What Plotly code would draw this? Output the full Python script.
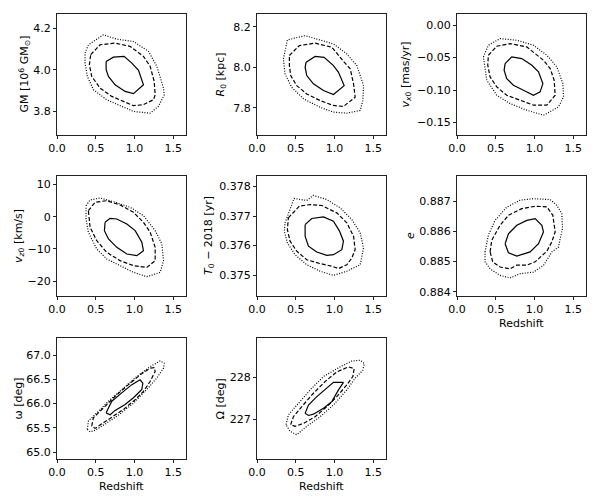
import plotly.graph_objects as go
from plotly.subplots import make_subplots

# ---- contour paths: (redshift, parameter) ----
# level 1 = solid, level 2 = dashed, level 3 = dotted

gm_1 = [(0.634, 4.040), (0.728, 4.061), (0.866, 4.065), (0.966, 4.032), (1.052, 3.997), (1.116, 3.927),
        (0.987, 3.884), (0.879, 3.895), (0.750, 3.927), (0.664, 3.968), (0.634, 4.000)]
gm_2 = [(0.435, 4.073), (0.556, 4.121), (0.750, 4.129), (0.944, 4.113), (1.116, 4.065), (1.203, 4.016),
        (1.254, 3.944), (1.267, 3.879), (1.246, 3.855), (1.116, 3.831), (0.987, 3.826), (0.858, 3.847),
        (0.707, 3.871), (0.556, 3.911), (0.448, 3.968), (0.418, 4.024)]
gm_3 = [(0.362, 4.081), (0.405, 4.121), (0.599, 4.169), (0.772, 4.148), (0.987, 4.137), (1.181, 4.089),
        (1.289, 4.016), (1.375, 3.911), (1.384, 3.879), (1.310, 3.823), (1.203, 3.790), (1.073, 3.795),
        (0.987, 3.798), (0.836, 3.823), (0.642, 3.855), (0.470, 3.903), (0.392, 3.968), (0.362, 4.032)]

r0_1 = [(0.634, 8.025), (0.750, 8.053), (0.866, 8.049), (0.987, 8.008), (1.052, 7.975), (1.125, 7.909),
        (0.987, 7.865), (0.858, 7.885), (0.728, 7.918), (0.642, 7.959), (0.621, 8.000)]
r0_2 = [(0.418, 8.058), (0.547, 8.107), (0.750, 8.119), (0.966, 8.099), (1.125, 8.025), (1.203, 7.992),
        (1.246, 7.918), (1.267, 7.852), (1.116, 7.806), (0.987, 7.811), (0.815, 7.835), (0.642, 7.868),
        (0.513, 7.909), (0.435, 7.959), (0.418, 8.008)]
r0_3 = [(0.341, 8.041), (0.392, 8.135), (0.621, 8.156), (0.772, 8.140), (0.987, 8.115), (1.159, 8.066),
        (1.289, 8.008), (1.375, 7.909), (1.366, 7.835), (1.332, 7.786), (1.159, 7.773), (0.987, 7.778),
        (0.815, 7.802), (0.599, 7.844), (0.448, 7.901), (0.362, 7.967)]

vx_1 = [(0.621, -0.0592), (0.707, -0.0490), (0.836, -0.0515), (0.966, -0.0618), (1.052, -0.0720),
        (1.108, -0.0900), (1.073, -0.1027), (0.987, -0.1079), (0.858, -0.1002), (0.728, -0.0925),
        (0.642, -0.0823), (0.608, -0.0695)]
vx_2 = [(0.405, -0.0464), (0.513, -0.0326), (0.685, -0.0285), (0.901, -0.0336), (1.116, -0.0541),
        (1.203, -0.0669), (1.254, -0.0848), (1.267, -0.1079), (1.159, -0.1232), (0.987, -0.1232),
        (0.815, -0.1155), (0.642, -0.1079), (0.513, -0.0951), (0.427, -0.0797), (0.397, -0.0618)]
vx_3 = [(0.341, -0.0490), (0.405, -0.0311), (0.556, -0.0208), (0.772, -0.0234), (0.987, -0.0311),
        (1.159, -0.0464), (1.289, -0.0643), (1.366, -0.0899), (1.375, -0.1104), (1.310, -0.1258),
        (1.116, -0.1386), (0.901, -0.1309), (0.685, -0.1207), (0.513, -0.1079), (0.384, -0.0848)]

vz_1 = [(0.621, -1.76), (0.685, -0.52), (0.772, -0.72), (0.901, -2.28), (1.009, -4.34), (1.095, -7.96),
        (1.116, -10.55), (1.030, -12.10), (0.901, -11.58), (0.772, -9.51), (0.664, -6.93), (0.612, -4.34)]
vz_2 = [(0.405, 1.86), (0.491, 4.45), (0.642, 4.96), (0.815, 3.62), (0.987, 1.34), (1.116, -1.76),
        (1.203, -4.86), (1.267, -9.51), (1.267, -13.65), (1.159, -15.72), (0.987, -15.20), (0.815, -13.65),
        (0.642, -11.07), (0.513, -7.45), (0.427, -3.31)]
vz_3 = [(0.375, 3.41), (0.427, 5.17), (0.556, 5.79), (0.728, 4.65), (0.944, 2.90), (1.116, 0.31),
        (1.267, -4.34), (1.353, -8.48), (1.375, -13.65), (1.332, -17.27), (1.159, -18.61), (0.987, -17.27),
        (0.815, -15.20), (0.642, -13.13), (0.513, -10.03), (0.405, -4.86), (0.375, -0.72)]

t0_1 = [(0.621, 0.37671), (0.707, 0.37692), (0.858, 0.37697), (0.987, 0.37683), (1.065, 0.37649),
        (1.116, 0.37615), (1.095, 0.37586), (0.987, 0.37569), (0.901, 0.37567), (0.772, 0.37578),
        (0.664, 0.37598), (0.621, 0.37632)]
t0_2 = [(0.405, 0.37694), (0.547, 0.37734), (0.685, 0.37739), (0.836, 0.37736), (1.030, 0.37711),
        (1.159, 0.37677), (1.246, 0.37632), (1.267, 0.37586), (1.224, 0.37558), (1.159, 0.37535),
        (1.052, 0.37522), (0.966, 0.37530), (0.815, 0.37539), (0.642, 0.37552), (0.513, 0.37581),
        (0.427, 0.37615), (0.392, 0.37654)]
t0_3 = [(0.362, 0.37677), (0.478, 0.37760), (0.642, 0.37753), (0.728, 0.37770), (0.901, 0.37756),
        (1.073, 0.37728), (1.224, 0.37688), (1.332, 0.37643), (1.375, 0.37592), (1.332, 0.37535),
        (1.159, 0.37513), (0.987, 0.37499), (0.815, 0.37513), (0.642, 0.37535), (0.491, 0.37569),
        (0.392, 0.37609), (0.353, 0.37649)]

ecc_1 = [(0.621, 0.88559), (0.664, 0.88592), (0.772, 0.88620), (0.901, 0.88636), (1.009, 0.88642),
         (1.095, 0.88620), (1.116, 0.88598), (1.052, 0.88559), (0.944, 0.88532), (0.772, 0.88518),
         (0.664, 0.88529)]
ecc_2 = [(0.427, 0.88532), (0.448, 0.88570), (0.556, 0.88620), (0.664, 0.88653), (0.836, 0.88675),
         (1.009, 0.88683), (1.159, 0.88681), (1.237, 0.88653), (1.267, 0.88598), (1.224, 0.88565),
         (1.159, 0.88534), (1.009, 0.88499), (0.901, 0.88488), (0.772, 0.88488), (0.685, 0.88476),
         (0.556, 0.88482), (0.461, 0.88499)]
ecc_3 = [(0.362, 0.88532), (0.405, 0.88587), (0.491, 0.88636), (0.642, 0.88680), (0.815, 0.88703),
         (0.987, 0.88708), (1.203, 0.88705), (1.289, 0.88686), (1.353, 0.88658), (1.362, 0.88609),
         (1.332, 0.88576), (1.310, 0.88548), (1.224, 0.88532), (1.116, 0.88487), (0.987, 0.88465),
         (0.815, 0.88460), (0.685, 0.88446), (0.556, 0.88454), (0.427, 0.88476), (0.362, 0.88499)]

om_1 = [(0.634, 65.81), (0.707, 66.05), (0.836, 66.22), (0.966, 66.39), (1.073, 66.49), (1.108, 66.42),
        (1.095, 66.29), (0.987, 66.12), (0.879, 65.98), (0.750, 65.86), (0.685, 65.77)]
om_2 = [(0.448, 65.54), (0.470, 65.71), (0.599, 65.91), (0.750, 66.15), (0.922, 66.39), (1.073, 66.59),
        (1.203, 66.73), (1.254, 66.74), (1.267, 66.66), (1.203, 66.46), (1.116, 66.25), (1.009, 66.08),
        (0.858, 65.88), (0.728, 65.74), (0.578, 65.57), (0.491, 65.49)]
om_3 = [(0.392, 65.47), (0.405, 65.64), (0.513, 65.81), (0.685, 66.08), (0.858, 66.32), (1.030, 66.56),
        (1.203, 66.76), (1.332, 66.88), (1.384, 66.83), (1.375, 66.73), (1.289, 66.53), (1.159, 66.29),
        (0.987, 66.01), (0.815, 65.79), (0.642, 65.60), (0.491, 65.45), (0.427, 65.42)]

node_1 = [(0.621, 227.14), (0.664, 227.34), (0.772, 227.54), (0.879, 227.70), (0.987, 227.88),
          (1.116, 227.88), (1.052, 227.70), (0.966, 227.42), (0.858, 227.26), (0.728, 227.12),
          (0.664, 227.09)]
node_2 = [(0.435, 226.87), (0.470, 227.06), (0.578, 227.30), (0.728, 227.62), (0.879, 227.90),
          (1.030, 228.13), (1.181, 228.25), (1.254, 228.21), (1.237, 228.02), (1.159, 227.82),
          (1.030, 227.54), (0.901, 227.30), (0.750, 227.06), (0.599, 226.90), (0.491, 226.83)]
node_3 = [(0.375, 226.87), (0.405, 227.10), (0.534, 227.38), (0.707, 227.74), (0.858, 228.02),
          (1.073, 228.25), (1.224, 228.39), (1.332, 228.41), (1.384, 228.33), (1.366, 228.17),
          (1.267, 227.98), (1.159, 227.70), (0.987, 227.34), (0.815, 227.06), (0.642, 226.83),
          (0.513, 226.63), (0.427, 226.71)]

# axis labels / ticks per panel
Y_TITLES = ['GM [10<sup>6</sup> GM<sub>⊙</sub>]', '<i>R</i><sub>0</sub> [kpc]',
            '<i>v</i><sub><i>x</i>0</sub> [mas/yr]', '<i>v</i><sub><i>z</i>0</sub> [km/s]',
            '<i>T</i><sub>0</sub> − 2018 [yr]', '<i>e</i>', 'ω [deg]', 'Ω [deg]']
Y_TICKS = [[3.8, 4.0, 4.2], [7.8, 8.0, 8.2], [0.0, -0.05, -0.10, -0.15], [10, 0, -10, -20],
           [0.375, 0.376, 0.377, 0.378], [0.884, 0.885, 0.886, 0.887],
           [65.0, 65.5, 66.0, 66.5, 67.0], [227, 228]]
Y_FMT = ['.1f', '.1f', '.2f', 'd', '.3f', '.3f', '.1f', 'd']
Y_RANGES = [[3.684, 4.27], [7.665, 8.263], [-0.169, 0.017], [-24.6, 12.6],
            [0.37429, 0.37836], [0.88386, 0.88783], [64.86, 67.35], [226.05, 228.94]]
X_TICKS = [0.0, 0.5, 1.0, 1.5]
X_RANGE = [0, 1.665]

panels = [(gm_1, gm_2, gm_3), (r0_1, r0_2, r0_3), (vx_1, vx_2, vx_3), (vz_1, vz_2, vz_3),
          (t0_1, t0_2, t0_3), (ecc_1, ecc_2, ecc_3), (om_1, om_2, om_3), (node_1, node_2, node_3)]
dashes = ['solid', '4px,2px', '1px,1.6px']

# pixel layout from the reference (600x500)
W, H = 600, 500
col_px = [(57, 186), (257, 386), (457, 586)]
row_px = [(14, 135), (176, 296), (338, 459)]
ytitle_px = [24, 220, 405, 19, 209, 410, 18, 220]   # centre of each rotated y label
xtitle_gap = 27                                    # axis bottom -> centre of "Redshift"

FS = 11

fig = make_subplots(rows=3, cols=3)

for k, levels in enumerate(panels):
    r, c = k // 3 + 1, k % 3 + 1
    for pts, dash in zip(levels, dashes):
        xs = [p[0] for p in pts] + [pts[0][0]]
        ys = [p[1] for p in pts] + [pts[0][1]]
        fig.add_trace(go.Scatter(x=xs, y=ys, mode='lines', showlegend=False,
                                 line=dict(color='black', width=1.2, dash=dash)),
                      row=r, col=c)

axis_style = dict(showline=True, linecolor='#222222', linewidth=1, mirror=True, ticks='outside',
                  ticklen=3, tickcolor='#222222', showgrid=False, zeroline=False, automargin=False,
                  tickfont=dict(size=FS, color='black'))

for k in range(9):
    r, c = k // 3, k % 3
    n = '' if k == 0 else str(k + 1)
    x0, x1 = col_px[c]
    y0, y1 = row_px[r]
    xd = [x0 / W, x1 / W]
    yd = [1 - y1 / H, 1 - y0 / H]
    if k == 8:
        fig.layout['xaxis9'].update(domain=xd, visible=False)
        fig.layout['yaxis9'].update(domain=yd, visible=False)
        continue
    fig.layout['xaxis' + n].update(domain=xd, range=X_RANGE, tickvals=X_TICKS, tickformat='.1f',
                                   **axis_style)
    fig.layout['yaxis' + n].update(domain=yd, range=Y_RANGES[k], tickvals=Y_TICKS[k],
                                   tickformat=Y_FMT[k], **axis_style)

    # y label, rotated, centred on the panel
    fig.add_annotation(text=Y_TITLES[k], textangle=-90, showarrow=False,
                       xref='paper', yref='paper', x=ytitle_px[k] / W, y=1 - (y0 + y1) / 2 / H,
                       xanchor='center', yanchor='middle', font=dict(size=FS, color='black'))
    if k >= 5:
        fig.add_annotation(text='Redshift', showarrow=False, xref='paper', yref='paper',
                           x=(x0 + x1) / 2 / W, y=1 - (y1 + xtitle_gap) / H,
                           xanchor='center', yanchor='middle', font=dict(size=FS, color='black'))

fig.update_layout(width=W, height=H, margin=dict(l=0, r=0, t=0, b=0),
                  plot_bgcolor='white', paper_bgcolor='white',
                  font=dict(family='DejaVu Sans', color='black', size=FS))

# the page body has a default 8px margin; drop it so the figure fills the window
fig.write_html("out.html", config={'displayModeBar': False},
               post_script="document.body.style.margin='0';")
